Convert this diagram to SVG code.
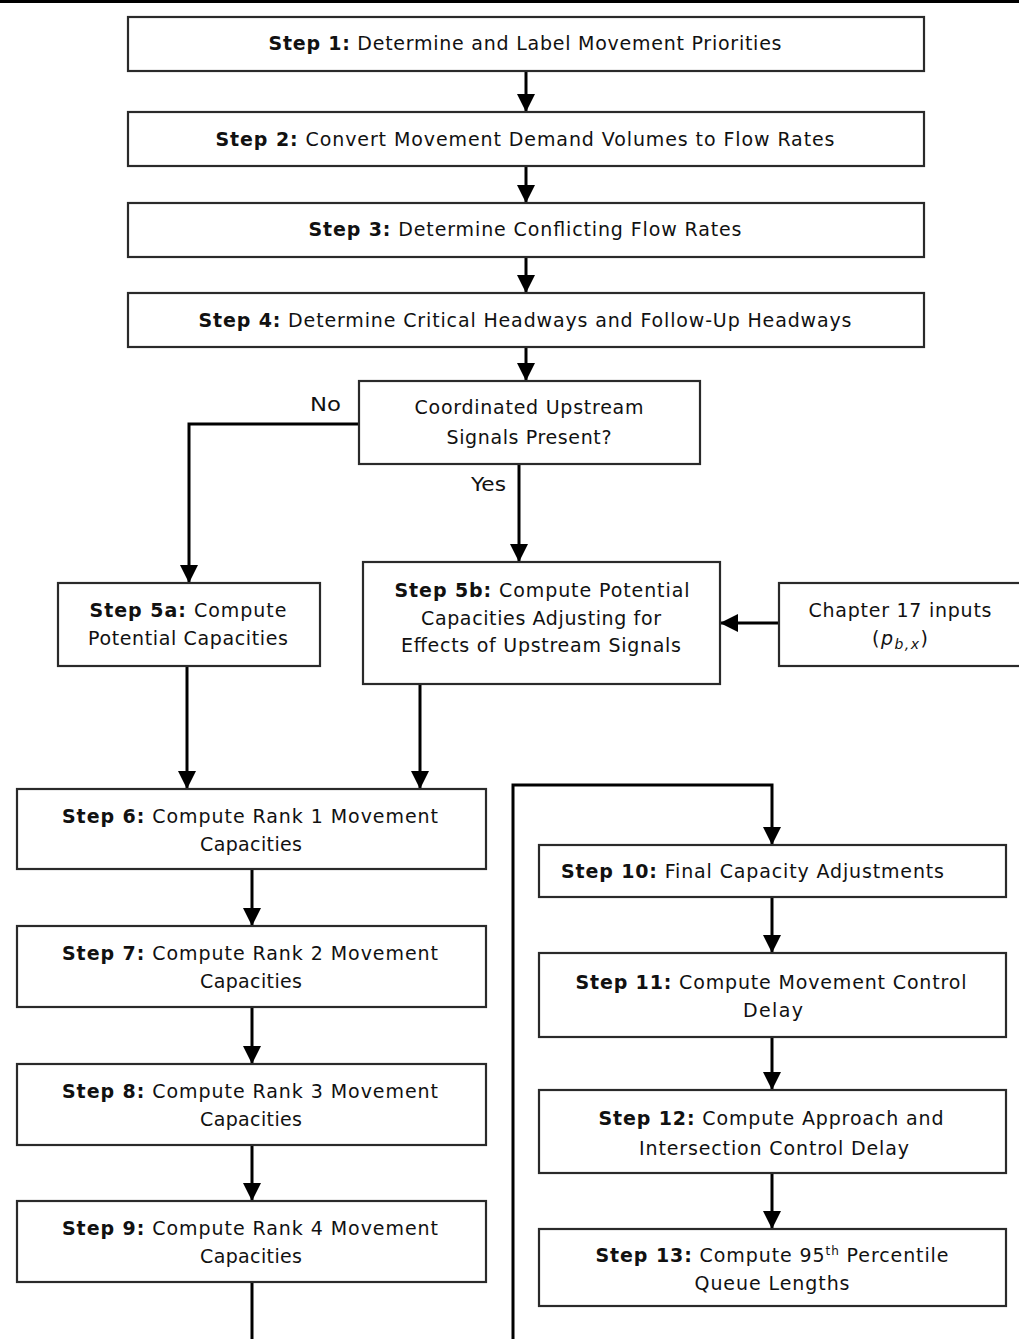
<svg xmlns="http://www.w3.org/2000/svg" width="1019" height="1339" viewBox="0 0 1019 1339">
<style>
.box{fill:#fff;stroke:#2a2a2a;stroke-width:2.2}
.t{font-family:"DejaVu Sans",Verdana,sans-serif;font-size:19px;fill:#111;text-anchor:middle}
.b{font-weight:bold}
.lbl{font-family:"DejaVu Sans",Verdana,sans-serif;font-size:19px;fill:#111}
.c{fill:none;stroke:#000;stroke-width:3}
.a{marker-end:url(#arr)}
</style>
<defs>
<marker id="arr" viewBox="0 0 10 10" refX="10" refY="5" markerWidth="18" markerHeight="19" markerUnits="userSpaceOnUse" orient="auto">
<path d="M0,0 L10,5 L0,10 z" fill="#000"/>
</marker>
</defs>
<rect x="0" y="0" width="1019" height="3" fill="#000"/>
<g id="connectors">
<path class="c a" d="M526,71 V112"/>
<path class="c a" d="M526,166 V203"/>
<path class="c a" d="M526,257 V293"/>
<path class="c a" d="M526,347 V381"/>
<path class="c a" d="M359,424 H189 V583"/>
<path class="c a" d="M519,464 V562"/>
<path class="c a" d="M779,623 H720"/>
<path class="c a" d="M187,666 V789"/>
<path class="c a" d="M420,684 V789"/>
<path class="c a" d="M252,869 V926"/>
<path class="c a" d="M252,1007 V1064"/>
<path class="c a" d="M252,1145 V1201"/>
<path class="c" d="M252,1282 V1339"/>
<path class="c a" d="M513,1339 V785 H772 V845"/>
<path class="c a" d="M772,897 V953"/>
<path class="c a" d="M772,1037 V1090"/>
<path class="c a" d="M772,1173 V1229"/>
<text class="lbl" x="310" y="411" textLength="31" lengthAdjust="spacingAndGlyphs">No</text>
<text class="lbl" x="471" y="491" textLength="35" lengthAdjust="spacingAndGlyphs">Yes</text>
</g>
<g id="step1">
<rect class="box" x="128" y="17" width="796" height="54"/>
<text class="t" x="525" y="50" textLength="513" lengthAdjust="spacing"><tspan class="b">Step 1:</tspan> Determine and Label Movement Priorities</text>
</g>
<g id="step2">
<rect class="box" x="128" y="112" width="796" height="54"/>
<text class="t" x="525" y="146" textLength="619" lengthAdjust="spacing"><tspan class="b">Step 2:</tspan> Convert Movement Demand Volumes to Flow Rates</text>
</g>
<g id="step3">
<rect class="box" x="128" y="203" width="796" height="54"/>
<text class="t" x="525" y="236" textLength="433" lengthAdjust="spacing"><tspan class="b">Step 3:</tspan> Determine Conflicting Flow Rates</text>
</g>
<g id="step4">
<rect class="box" x="128" y="293" width="796" height="54"/>
<text class="t" x="525" y="327" textLength="653" lengthAdjust="spacing"><tspan class="b">Step 4:</tspan> Determine Critical Headways and Follow-Up Headways</text>
</g>
<g id="decision">
<rect class="box" x="359" y="381" width="341" height="83"/>
<text class="t" x="529" y="414" textLength="229" lengthAdjust="spacing">Coordinated Upstream</text>
<text class="t" x="529" y="444" textLength="165" lengthAdjust="spacing">Signals Present?</text>
</g>
<g id="step5a">
<rect class="box" x="58" y="583" width="262" height="83"/>
<text class="t" x="188" y="617" textLength="197" lengthAdjust="spacing"><tspan class="b">Step 5a:</tspan> Compute</text>
<text class="t" x="188" y="645" textLength="200" lengthAdjust="spacing">Potential Capacities</text>
</g>
<g id="step5b">
<rect class="box" x="363" y="562" width="357" height="122"/>
<text class="t" x="542" y="597" textLength="295" lengthAdjust="spacing"><tspan class="b">Step 5b:</tspan> Compute Potential</text>
<text class="t" x="541" y="625" textLength="240" lengthAdjust="spacing">Capacities Adjusting for</text>
<text class="t" x="541" y="652" textLength="280" lengthAdjust="spacing">Effects of Upstream Signals</text>
</g>
<g id="chapter17">
<rect class="box" x="779" y="583" width="250" height="83"/>
<text class="t" x="900" y="617" textLength="183" lengthAdjust="spacing">Chapter 17 inputs</text>
<text class="t" x="900" y="645" textLength="56" lengthAdjust="spacing">(<tspan font-style="italic">p</tspan><tspan font-style="italic" font-size="14" dy="4">b,x</tspan><tspan dy="-4">)</tspan></text>
</g>
<g id="step6">
<rect class="box" x="17" y="789" width="469" height="80"/>
<text class="t" x="250" y="823" textLength="376" lengthAdjust="spacing"><tspan class="b">Step 6:</tspan> Compute Rank 1 Movement</text>
<text class="t" x="251" y="851" textLength="102" lengthAdjust="spacing">Capacities</text>
</g>
<g id="step7">
<rect class="box" x="17" y="926" width="469" height="81"/>
<text class="t" x="250" y="960" textLength="376" lengthAdjust="spacing"><tspan class="b">Step 7:</tspan> Compute Rank 2 Movement</text>
<text class="t" x="251" y="988" textLength="102" lengthAdjust="spacing">Capacities</text>
</g>
<g id="step8">
<rect class="box" x="17" y="1064" width="469" height="81"/>
<text class="t" x="250" y="1098" textLength="376" lengthAdjust="spacing"><tspan class="b">Step 8:</tspan> Compute Rank 3 Movement</text>
<text class="t" x="251" y="1126" textLength="102" lengthAdjust="spacing">Capacities</text>
</g>
<g id="step9">
<rect class="box" x="17" y="1201" width="469" height="81"/>
<text class="t" x="250" y="1235" textLength="376" lengthAdjust="spacing"><tspan class="b">Step 9:</tspan> Compute Rank 4 Movement</text>
<text class="t" x="251" y="1263" textLength="102" lengthAdjust="spacing">Capacities</text>
</g>
<g id="step10">
<rect class="box" x="539" y="845" width="467" height="52"/>
<text class="lbl" x="561" y="878" textLength="383" lengthAdjust="spacing"><tspan class="b">Step 10:</tspan> Final Capacity Adjustments</text>
</g>
<g id="step11">
<rect class="box" x="539" y="953" width="467" height="84"/>
<text class="t" x="771" y="989" textLength="391" lengthAdjust="spacing"><tspan class="b">Step 11:</tspan> Compute Movement Control</text>
<text class="t" x="773" y="1017" textLength="60" lengthAdjust="spacing">Delay</text>
</g>
<g id="step12">
<rect class="box" x="539" y="1090" width="467" height="83"/>
<text class="t" x="771" y="1125" textLength="345" lengthAdjust="spacing"><tspan class="b">Step 12:</tspan> Compute Approach and</text>
<text class="t" x="774" y="1155" textLength="270" lengthAdjust="spacing">Intersection Control Delay</text>
</g>
<g id="step13">
<rect class="box" x="539" y="1229" width="467" height="77"/>
<text class="t" x="772" y="1262" textLength="353" lengthAdjust="spacing"><tspan class="b">Step 13:</tspan> Compute 95<tspan font-size="12" dy="-7">th</tspan><tspan dy="7"> Percentile</tspan></text>
<text class="t" x="772" y="1290" textLength="155" lengthAdjust="spacing">Queue Lengths</text>
</g>
</svg>
